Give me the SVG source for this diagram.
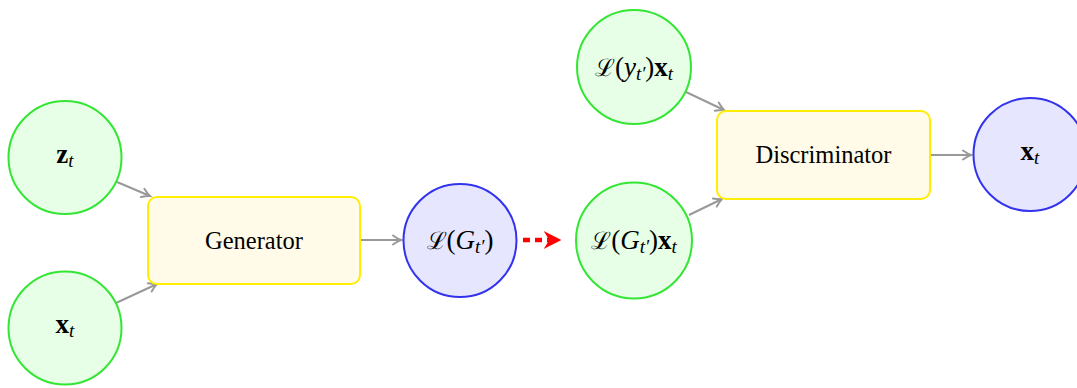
<svg xmlns="http://www.w3.org/2000/svg" width="1077" height="388" viewBox="0 0 1077 388">
<style>
.g{fill:#e6ffe6;stroke:#33e633;stroke-width:2}
.b{fill:#e6e6ff;stroke:#3333ee;stroke-width:2}
.y{fill:#fffbe8;stroke:#ffee00;stroke-width:2}
text{font-family:'Liberation Serif','Times New Roman','DejaVu Serif',serif;fill:#000;text-anchor:middle}
.lbl{font-size:24.5px}
.m{font-size:27px}
.bf{font-weight:bold}
.it{font-style:italic}
.sub{font-style:italic;font-size:19px}
.cal{font-family:'DejaVu Serif',serif;font-size:24px}
.c{stroke:#999;stroke-width:2;fill:none}
</style>
<defs>
<marker id="ah" markerUnits="userSpaceOnUse" markerWidth="14" markerHeight="12" refX="0" refY="0" viewBox="-9 -6 11 12" orient="auto">
<path d="M-8,-4.5 Q-3,-1 0,0 Q-3,1 -8,4.5" stroke="#999" stroke-width="2" fill="none" stroke-linecap="round"/>
</marker>
<marker id="rh" markerUnits="userSpaceOnUse" markerWidth="20" markerHeight="20" refX="-4" refY="0" viewBox="-17 -9 18 18" orient="auto">
<path d="M0,0 L-16,-8 L-11,0 L-16,8 Z" fill="#ff0000"/>
</marker>
</defs>
<g id="connectors">
<line class="c" x1="117" y1="182" x2="150" y2="196" marker-end="url(#ah)"/>
<line class="c" x1="116" y1="303" x2="157" y2="284" marker-end="url(#ah)"/>
<line class="c" x1="360" y1="240" x2="401" y2="240" marker-end="url(#ah)"/>
<line x1="523" y1="240" x2="557" y2="240" stroke="#ff0000" stroke-width="4.5" stroke-dasharray="7 5" marker-end="url(#rh)"/>
<line class="c" x1="686" y1="92" x2="724" y2="110" marker-end="url(#ah)"/>
<line class="c" x1="689" y1="215" x2="722" y2="199" marker-end="url(#ah)"/>
<line class="c" x1="930" y1="155" x2="971" y2="155" marker-end="url(#ah)"/>
</g>
<g id="n_z">
<circle class="g" cx="65" cy="157.5" r="56.5"/>
<text class="m" x="65" y="163"><tspan class="bf">z</tspan><tspan class="sub" dy="4">t</tspan></text>
</g>
<g id="n_x">
<circle class="g" cx="65" cy="328" r="56.5"/>
<text class="m" x="65" y="333"><tspan class="bf">x</tspan><tspan class="sub" dy="4">t</tspan></text>
</g>
<g id="n_gen">
<rect class="y" x="148" y="197" width="212" height="87" rx="9"/>
<text class="lbl" x="254" y="249">Generator</text>
</g>
<g id="n_lg">
<circle class="b" cx="460" cy="240.5" r="56.5"/>
<text class="m" x="460" y="249"><tspan class="cal">ℒ</tspan>(<tspan class="it">G</tspan><tspan class="sub" dy="4">t′</tspan><tspan dy="-4">)</tspan></text>
</g>
<g id="n_lgx">
<circle class="g" cx="634" cy="240.5" r="58"/>
<text class="m" x="634" y="249"><tspan class="cal">ℒ</tspan>(<tspan class="it">G</tspan><tspan class="sub" dy="4">t′</tspan><tspan dy="-4">)</tspan><tspan class="bf">x</tspan><tspan class="sub" dy="4">t</tspan></text>
</g>
<g id="n_lyx">
<circle class="g" cx="634" cy="67" r="57"/>
<text class="m" x="634" y="76"><tspan class="cal">ℒ</tspan>(<tspan class="it">y</tspan><tspan class="sub" dy="4">t′</tspan><tspan dy="-4">)</tspan><tspan class="bf">x</tspan><tspan class="sub" dy="4">t</tspan></text>
</g>
<g id="n_disc">
<rect class="y" x="717" y="111" width="213" height="88" rx="9"/>
<text class="lbl" x="823.5" y="163">Discriminator</text>
</g>
<g id="n_xout">
<circle class="b" cx="1030" cy="154.5" r="56.5"/>
<text class="m" x="1030" y="160"><tspan class="bf">x</tspan><tspan class="sub" dy="4">t</tspan></text>
</g>
</svg>
